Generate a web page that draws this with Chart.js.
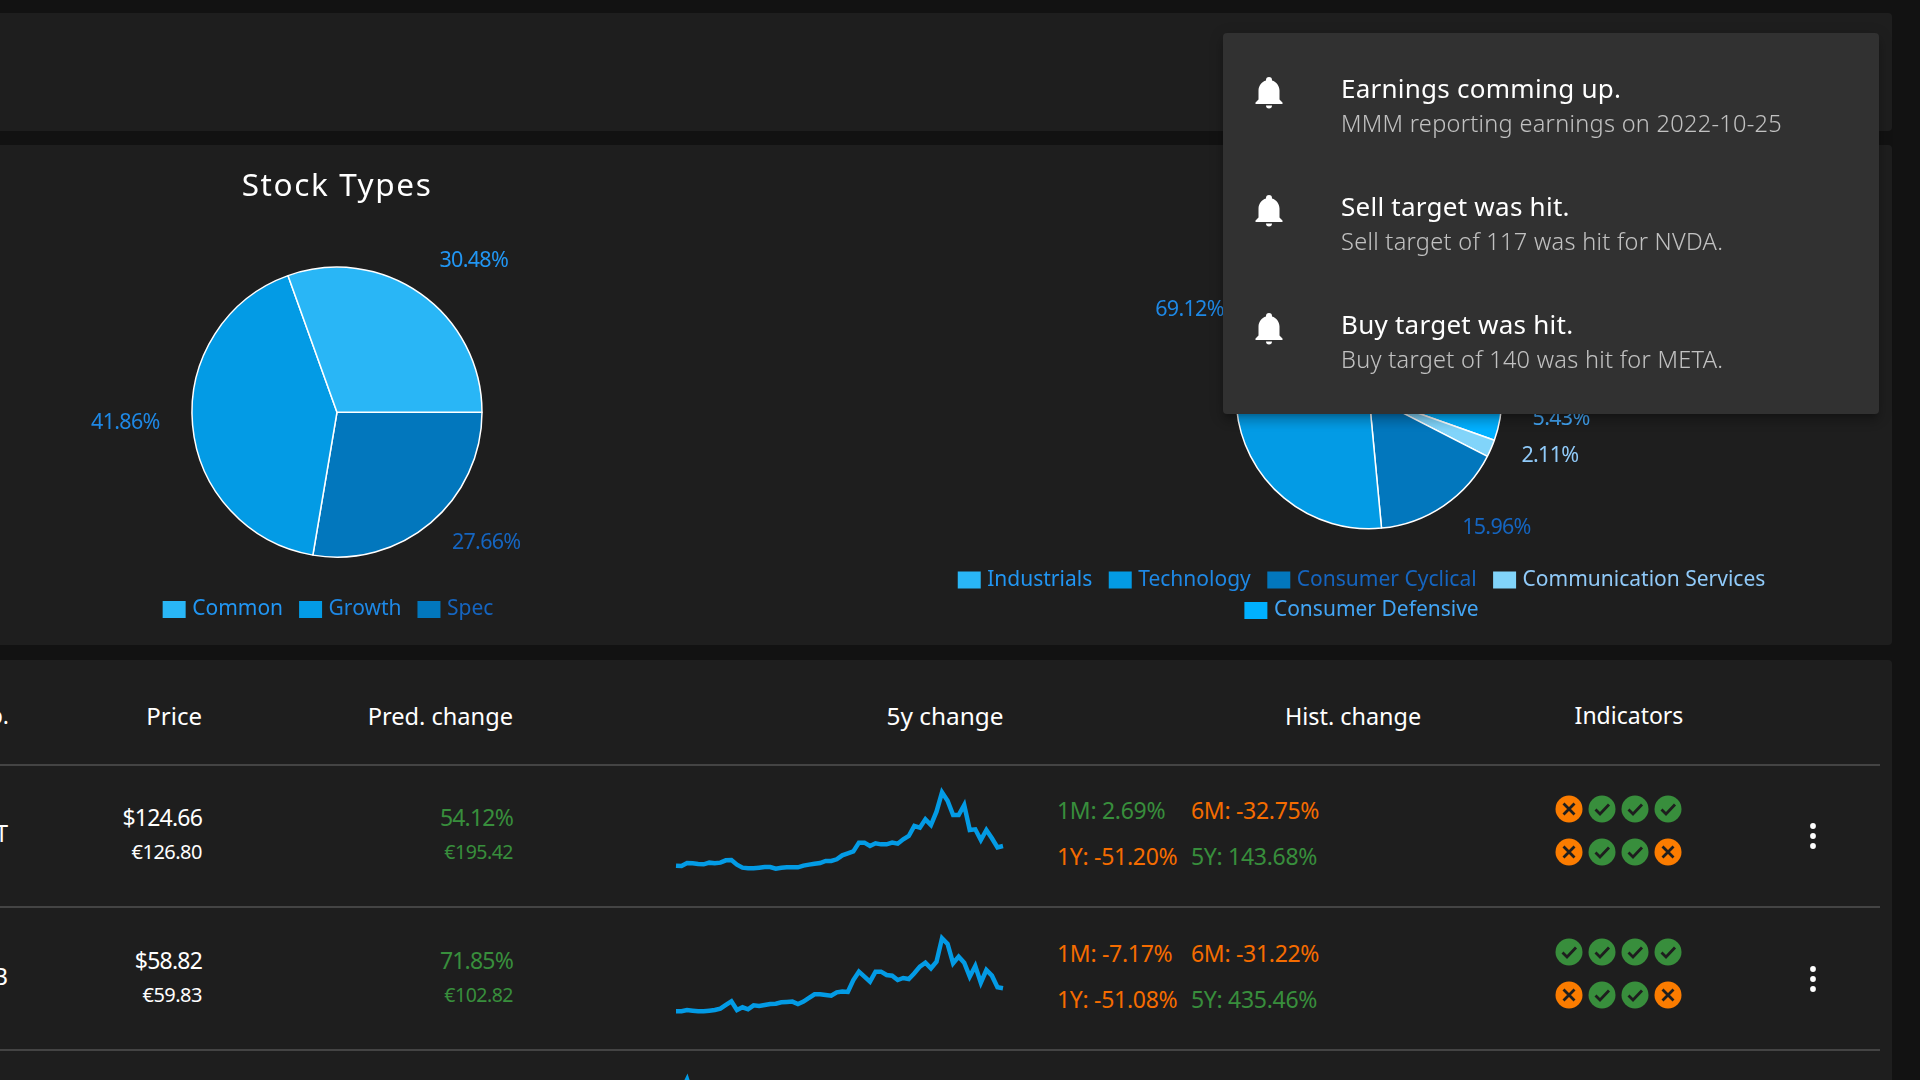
<!DOCTYPE html>
<html><head><meta charset="utf-8">
<script src="https://cdn.jsdelivr.net/npm/chart.js@4"></script>
<style>
html,body{margin:0;padding:0;width:1920px;height:1080px;overflow:hidden;background:#121212}
body{position:relative;font-family:"Noto Sans",sans-serif;color:#fff}
.panel{position:absolute;background:#1e1e1e;border-radius:4px}
.t{position:absolute;white-space:nowrap;transform:translateY(-50%);line-height:1.2}
.rule{position:absolute;left:0;width:1880px;height:2px;background:#444}
canvas{position:absolute}
#popup{position:absolute;left:1223px;top:33px;width:656px;height:381px;background:#313131;border-radius:4px;z-index:5;
box-shadow:0 5px 5px -3px rgba(0,0,0,.2),0 8px 10px 1px rgba(0,0,0,.14),0 3px 14px 2px rgba(0,0,0,.12)}
svg{position:absolute}
</style></head><body>
<div class="panel" style="left:-10px;top:13px;width:1902px;height:118px"></div>
<div class="panel" style="left:-10px;top:145px;width:1902px;height:500px"></div>
<div class="panel" style="left:-10px;top:660px;width:1902px;height:440px"></div>
<canvas id="typesChart" width="674" height="485" style="left:0;top:145px;width:674px;height:485px"></canvas>
<canvas id="sectorChart" width="860" height="486" style="left:939px;top:145px;width:860px;height:486px"></canvas>
<canvas id="spark1" width="335" height="96" style="left:672px;top:780px;width:335px;height:96px"></canvas>
<canvas id="spark2" width="335" height="96" style="left:672px;top:925px;width:335px;height:96px"></canvas>
<canvas id="spark3" width="335" height="96" style="left:672px;top:1070px;width:335px;height:96px"></canvas>
<div id="popup"></div>
<script>
const typeLabels=['Common','Growth','Spec'];
const typeValues=[30.48,41.86,27.66];
const typeColors=['#29b6f6','#039be5','#0277bd'];
const typeTextColors=['#2196f3','#1e88e5','#1565c0'];

const sectorLabels=['Industrials','Technology','Consumer Cyclical','Communication Services','Consumer Defensive'];
const sectorValues=[7.38,69.12,15.96,2.11,5.43];
const sectorColors=['#29b6f6','#039be5','#0277bd','#81d4fa','#00b0ff'];
const sectorTextColors=['#2196f3','#1e88e5','#1565c0','#90caf9','#42a5f5'];

const priceHistory1=[51.3,50.0,61.2,60.0,57.5,56.2,62.5,60.0,62.5,71.2,72.4,55.0,43.8,41.3,41.3,43.8,46.3,46.3,40.1,43.8,45.0,45.0,45.0,51.3,55.0,58.7,61.2,68.7,68.7,74.9,89.8,97.3,104.7,137.1,137.1,124.6,134.6,130.8,130.8,137.1,133.3,149.5,161.9,199.2,193.0,224.1,202.9,252.7,324.8,293.7,240.3,240.3,277.6,184.3,186.8,147.0,184.3,153.2,119.6,124.6];
const priceHistory2=[11.0,11.0,13.7,12.3,11.0,11.0,12.3,13.7,16.5,24.1,31.8,13.7,19.3,15.1,23.4,22.0,24.1,26.2,26.9,29.7,30.4,31.1,26.2,31.1,38.7,46.3,46.3,44.9,43.5,50.5,51.9,51.2,76.1,93.4,83.0,72.7,93.4,93.4,86.5,85.1,76.1,80.3,78.2,90.0,103.8,112.2,100.4,114.2,162.8,151.0,110.8,124.6,112.2,83.0,105.2,70.6,96.9,85.1,60.9,58.8];
const priceHistory3=[70,78,90,72,68];
const sparkMonths=Array.from({length:60},(_,i)=>i+1);

const headers=['Exp.','Price','Pred. change','5y change','Hist. change','Indicators'];
const tickers=['T','B'];
const prices=['$124.66','$58.82'];
const pricesEur=['€126.80','€59.83'];
const predPct=['54.12%','71.85%'];
const predEur=['€195.42','€102.82'];
const hist1M=['1M: 2.69%','1M: -7.17%'];
const hist6M=['6M: -32.75%','6M: -31.22%'];
const hist1Y=['1Y: -51.20%','1Y: -51.08%'];
const hist5Y=['5Y: 143.68%','5Y: 435.46%'];
const indicators=[[[0,1,1,1],[0,1,1,0]],[[1,1,1,1],[0,1,1,0]]];
const notifTitles=['Earnings comming up.','Sell target was hit.','Buy target was hit.'];
const notifBodies=['MMM reporting earnings on 2022-10-25','Sell target of 117 was hit for NVDA.','Buy target of 140 was hit for META.'];

const FONT='"Noto Sans", sans-serif';
Chart.defaults.font.family=FONT;
Chart.defaults.animation=false;
Chart.defaults.responsive=false;

const GREEN='#388e3c',ORANGE='#f56c00';

function pct(v){return v.toFixed(2)+'%';}
const outerLabels={id:'outerLabels',afterDatasetsDraw(chart,args,opts){
  const arcs=chart.getDatasetMeta(0).data,ctx=chart.ctx;
  ctx.save();ctx.font='21.5px '+FONT;ctx.textBaseline='middle';ctx.letterSpacing='-0.7px';
  arcs.forEach((a,i)=>{
    const m=(a.startAngle+a.endAngle)/2,R=a.outerRadius+33;
    const c=Math.cos(m),s=Math.sin(m);
    ctx.textAlign=c>0?'left':'right';
    ctx.fillStyle=opts.colors[i];
    ctx.fillText(pct(chart.data.datasets[0].data[i]),a.x+c*R,a.y+s*R-5.5);
  });
  ctx.restore();
}};
const legendShift={id:'legendShift',afterLayout(chart,args,opts){
  chart.legend.left+=opts.dx;chart.legend.right+=opts.dx;
  const tb=chart.titleBlock;
  if(tb&&!tb._spaced){tb._spaced=true;const draw=tb.draw;
    tb.draw=function(){const c=this.ctx;c.save();c.letterSpacing='1.6px';draw.call(this);c.restore();};}
}};

function makePie(id,labels,values,colors,textColors,radius,cfg){
  return new Chart(document.getElementById(id),{
    type:'pie',
    data:{labels:labels.slice().reverse(),datasets:[{data:values.slice().reverse(),backgroundColor:colors.slice().reverse(),borderColor:'#fff',borderWidth:1.5}]},
    plugins:[outerLabels,legendShift],
    options:{
      rotation:90,radius:radius,
      layout:{padding:cfg.padding},
      plugins:{
        title:cfg.title,
        tooltip:{enabled:false},
        outerLabels:{colors:textColors.slice().reverse()},
        legendShift:{dx:cfg.dx},
        legend:{position:'bottom',reverse:true,labels:{
          boxWidth:15,boxHeight:9,padding:cfg.legendPad,font:{size:21},
          generateLabels(chart){
            return chart.data.labels.map((l,i)=>{const k=labels.length-1-i;return{
              text:l+cfg.trail,fillStyle:colors[k],strokeStyle:colors[k],lineWidth:8,fontColor:textColors[k],hidden:false,index:i,datasetIndex:0};});
          }}}
      }
    }
  });
}
makePie('typesChart',typeLabels,typeValues,typeColors,typeTextColors,145,{
  padding:0,dx:-7,legendPad:20,trail:'',
  title:{display:true,text:'Stock Types',color:'#fff',font:{size:31.5,weight:'normal',lineHeight:1.2},padding:{top:23.5,bottom:39}}
});
makePie('sectorChart',sectorLabels,sectorValues,sectorColors,sectorTextColors,133,{
  padding:{top:86.6},dx:0,legendPad:9.6,trail:'\u00A0\u00A0',
  title:{display:false}
});

function spark(id,data,min,max){
  new Chart(document.getElementById(id),{
    type:'line',
    data:{labels:sparkMonths.slice(0,data.length===5?60:data.length),datasets:[{data,borderColor:'#039be5',borderWidth:4.5,pointRadius:0,tension:0,clip:false,fill:false}]},
    options:{layout:{padding:{left:4,right:4}},
      scales:{x:{display:false,offset:false},y:{display:false,min,max}},
      plugins:{legend:{display:false},tooltip:{enabled:false},title:{display:false}}}
  });
}
spark('spark1',priceHistory1,12.7,370.8);
spark('spark2',priceHistory2,-9.2,190.5);
spark('spark3',priceHistory3,0,100);

function t(parent,x,y,text,size,color,align,ls,w){
  const d=document.createElement('div');d.className='t';d.textContent=text;
  d.style.fontSize=size+'px';d.style.color=color;d.style.top=y+'px';
  if(ls)d.style.letterSpacing=ls+'px';
  if(w)d.style.fontWeight=w;
  if(align==='right'){d.style.right=(1920-x)+'px';}
  else if(align==='center'){d.style.left=x+'px';d.style.transform='translate(-50%,-50%)';}
  else{d.style.left=x+'px';}
  parent.appendChild(d);return d;
}
const B=document.body;
const rowY=[818,961];
[764,906,1049].forEach(y=>{const r=document.createElement('div');r.className='rule';r.style.top=y+'px';B.appendChild(r);});
t(B,9,716,headers[0],23,'#fff','right');
t(B,202,715.5,headers[1],24,'#fff','right');
t(B,513,715.5,headers[2],23.6,'#fff','right');
t(B,945,715.5,headers[3],24.4,'#fff','center');
t(B,1353,715.5,headers[4],23.4,'#fff','center');
t(B,1629,716,headers[5],23,'#fff','center');
function col(s){return s.indexOf('-')>=0?ORANGE:GREEN;}
const NS='http://www.w3.org/2000/svg';
function icon(cx,cy,ok){
  const s=document.createElementNS(NS,'svg');
  s.setAttribute('width',28);s.setAttribute('height',28);s.style.left=(cx-14)+'px';s.style.top=(cy-14)+'px';
  s.innerHTML='<circle cx="14" cy="14" r="13.5" fill="'+(ok?GREEN:'#fb7c00')+'"/>'+
   (ok?'<path d="M7.5 14.5l4.5 4.5 9-9.5" fill="none" stroke="#1e1e1e" stroke-width="2.8"/>'
      :'<path d="M8.5 8.5l11 11M19.5 8.5l-11 11" fill="none" stroke="#1e1e1e" stroke-width="2.8"/>');
  B.appendChild(s);
}
const iconX=[1568.5,1601.5,1634.5,1667.5];
rowY.forEach((y,r)=>{
  t(B,8,y+16,tickers[r],23,'#fff','right');
  t(B,202,y,prices[r],23,'#fff','right',-0.8);
  t(B,202,y+34,pricesEur[r],20,'#fff','right',-0.5);
  t(B,513,y,predPct[r],23,GREEN,'right',-0.8);
  t(B,513,y+34,predEur[r],19.5,GREEN,'right',-0.5);
  t(B,1057,y-7.5,hist1M[r],23,col(hist1M[r]),'left',-0.3);
  t(B,1191,y-7.5,hist6M[r],23,col(hist6M[r]),'left',-0.3);
  t(B,1057,y+38.5,hist1Y[r],23,col(hist1Y[r]),'left',-0.3);
  t(B,1191,y+38.5,hist5Y[r],23,col(hist5Y[r]),'left',-0.3);
  indicators[r].forEach((line,l)=>line.forEach((ok,k)=>icon(iconX[k],y-9+l*43,ok)));
  const s=document.createElementNS(NS,'svg');
  s.setAttribute('width',12);s.setAttribute('height',36);s.style.left='1807px';s.style.top=(y)+'px';
  s.innerHTML='<circle cx="6" cy="8" r="2.9" fill="#fff"/><circle cx="6" cy="18" r="2.9" fill="#fff"/><circle cx="6" cy="28" r="2.9" fill="#fff"/>';
  B.appendChild(s);
});
const P=document.getElementById('popup');
notifTitles.forEach((n,i)=>{
  const y=118*i;
  t(P,118,89-33+y,n,26,'#fff','left',0.25);
  t(P,118,122.5-33+y,notifBodies[i],23.5,'rgba(255,255,255,.7)','left',0.3,300);
  const s=document.createElementNS(NS,'svg');
  s.setAttribute('width',36);s.setAttribute('height',36);s.setAttribute('viewBox','0 0 24 24');
  s.style.left='27.5px';s.style.top=(73.5-33+y)+'px';
  s.innerHTML='<path fill="#fff" d="M21,19V20H3V19L5,17V11C5,7.9 7.03,5.17 10,4.29C10,4.19 10,4.1 10,4A2,2 0 0,1 12,2A2,2 0 0,1 14,4C14,4.1 14,4.19 14,4.29C16.97,5.17 19,7.9 19,11V17L21,19M14,21A2,2 0 0,1 12,23A2,2 0 0,1 10,21"/>';
  P.appendChild(s);
});
</script>
</body></html>
